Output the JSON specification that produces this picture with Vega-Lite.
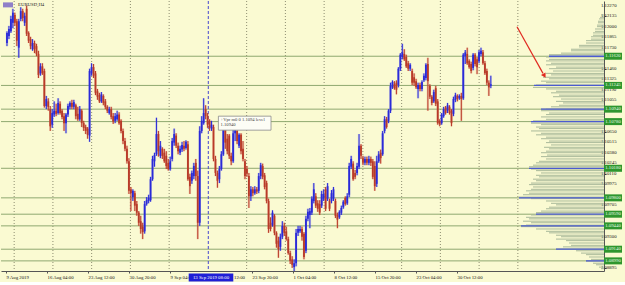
{
"$schema":"https://vega.github.io/schema/vega-lite/v6.json",
"width":603,"height":270,"padding":0,"autosize":{"type":"pad"},
"background":"#fafad2",
"config":{"view":{"stroke":null},"font":"Liberation Sans Narrow",
 "axis":{"labelOverlap":false,"labelFlush":false,"labelFontSize":4.8,"labelFont":"Liberation Sans Narrow","labelColor":"#111","domainColor":"#555","tickColor":"#555","tickSize":2,"labelPadding":1,"grid":false,"title":null}},
"datasets":{
"candles":[
{"i":0,"o":1.1179,"h":1.1194,"l":1.1175,"c":1.1192},{"i":1,"o":1.1188,"h":1.1201,"l":1.1184,"c":1.1197},{"i":2,"o":1.1194,"h":1.1214,"l":1.1192,"c":1.1210},{"i":3,"o":1.1205,"h":1.1223,"l":1.1198,"c":1.1218},{"i":4,"o":1.1215,"h":1.1218,"l":1.1201,"c":1.1205},{"i":5,"o":1.1207,"h":1.1210,"l":1.1175,"c":1.1182},{"i":6,"o":1.1173,"h":1.1210,"l":1.1160,"c":1.1207},{"i":7,"o":1.1210,"h":1.1225,"l":1.1207,"c":1.1220},{"i":8,"o":1.1220,"h":1.1223,"l":1.1207,"c":1.1211},{"i":9,"o":1.1205,"h":1.1218,"l":1.1201,"c":1.1214},
{"i":10,"o":1.1223,"h":1.1227,"l":1.1188,"c":1.1191},{"i":11,"o":1.1192,"h":1.1194,"l":1.1179,"c":1.1182},{"i":12,"o":1.1184,"h":1.1187,"l":1.1171,"c":1.1175},{"i":13,"o":1.1171,"h":1.1184,"l":1.1169,"c":1.1179},{"i":14,"o":1.1179,"h":1.1182,"l":1.1166,"c":1.1171},{"i":15,"o":1.1175,"h":1.1178,"l":1.1162,"c":1.1165},{"i":16,"o":1.1165,"h":1.1169,"l":1.1134,"c":1.1138},{"i":17,"o":1.1140,"h":1.1153,"l":1.1137,"c":1.1149},{"i":18,"o":1.1149,"h":1.1153,"l":1.1138,"c":1.1140},{"i":19,"o":1.1143,"h":1.1146,"l":1.1096,"c":1.1098},
{"i":20,"o":1.1098,"h":1.1111,"l":1.1094,"c":1.1107},{"i":21,"o":1.1104,"h":1.1108,"l":1.1092,"c":1.1097},{"i":22,"o":1.1094,"h":1.1098,"l":1.1066,"c":1.1072},{"i":23,"o":1.1074,"h":1.1094,"l":1.1070,"c":1.1089},{"i":24,"o":1.1087,"h":1.1104,"l":1.1084,"c":1.1092},{"i":25,"o":1.1092,"h":1.1101,"l":1.1085,"c":1.1088},{"i":26,"o":1.1089,"h":1.1108,"l":1.1087,"c":1.1102},{"i":27,"o":1.1101,"h":1.1104,"l":1.1087,"c":1.1089},{"i":28,"o":1.1092,"h":1.1094,"l":1.1081,"c":1.1084},{"i":29,"o":1.1085,"h":1.1089,"l":1.1066,"c":1.1076},
{"i":30,"o":1.1076,"h":1.1089,"l":1.1063,"c":1.1087},{"i":31,"o":1.1087,"h":1.1101,"l":1.1084,"c":1.1098},{"i":32,"o":1.1097,"h":1.1104,"l":1.1094,"c":1.1102},{"i":33,"o":1.1102,"h":1.1106,"l":1.1094,"c":1.1097},{"i":34,"o":1.1097,"h":1.1106,"l":1.1094,"c":1.1103},{"i":35,"o":1.1099,"h":1.1101,"l":1.1081,"c":1.1085},{"i":36,"o":1.1088,"h":1.1097,"l":1.1079,"c":1.1081},{"i":37,"o":1.1081,"h":1.1098,"l":1.1079,"c":1.1094},{"i":38,"o":1.1092,"h":1.1094,"l":1.1071,"c":1.1076},{"i":39,"o":1.1076,"h":1.1079,"l":1.1066,"c":1.1070},
{"i":40,"o":1.1071,"h":1.1074,"l":1.1062,"c":1.1066},{"i":41,"o":1.1069,"h":1.1071,"l":1.1056,"c":1.1061},{"i":42,"o":1.1060,"h":1.1146,"l":1.1052,"c":1.1143},{"i":43,"o":1.1140,"h":1.1153,"l":1.1137,"c":1.1148},{"i":44,"o":1.1148,"h":1.1152,"l":1.1134,"c":1.1137},{"i":45,"o":1.1140,"h":1.1143,"l":1.1112,"c":1.1115},{"i":46,"o":1.1117,"h":1.1120,"l":1.1106,"c":1.1110},{"i":47,"o":1.1112,"h":1.1115,"l":1.1102,"c":1.1104},{"i":48,"o":1.1104,"h":1.1116,"l":1.1102,"c":1.1113},{"i":49,"o":1.1111,"h":1.1113,"l":1.1099,"c":1.1102},
{"i":50,"o":1.1104,"h":1.1107,"l":1.1094,"c":1.1097},{"i":51,"o":1.1097,"h":1.1099,"l":1.1089,"c":1.1092},{"i":52,"o":1.1089,"h":1.1097,"l":1.1087,"c":1.1094},{"i":53,"o":1.1094,"h":1.1097,"l":1.1081,"c":1.1084},{"i":54,"o":1.1085,"h":1.1089,"l":1.1075,"c":1.1078},{"i":55,"o":1.1079,"h":1.1089,"l":1.1076,"c":1.1085},{"i":56,"o":1.1081,"h":1.1092,"l":1.1079,"c":1.1087},{"i":57,"o":1.1087,"h":1.1090,"l":1.1074,"c":1.1076},{"i":58,"o":1.1079,"h":1.1081,"l":1.1063,"c":1.1066},{"i":59,"o":1.1066,"h":1.1069,"l":1.1049,"c":1.1053},
{"i":60,"o":1.1053,"h":1.1057,"l":1.1040,"c":1.1043},{"i":61,"o":1.1043,"h":1.1047,"l":1.1024,"c":1.1027},{"i":62,"o":1.1027,"h":1.1031,"l":1.0985,"c":1.0989},{"i":63,"o":1.0991,"h":1.0994,"l":1.0963,"c":1.0986},{"i":64,"o":1.0981,"h":1.0991,"l":1.0976,"c":1.0989},{"i":65,"o":1.0986,"h":1.0989,"l":1.0963,"c":1.0970},{"i":66,"o":1.0972,"h":1.0976,"l":1.0957,"c":1.0961},{"i":67,"o":1.0961,"h":1.0963,"l":1.0944,"c":1.0948},{"i":68,"o":1.0950,"h":1.0957,"l":1.0934,"c":1.0940},{"i":69,"o":1.0943,"h":1.0948,"l":1.0927,"c":1.0936},
{"i":70,"o":1.0937,"h":1.0976,"l":1.0934,"c":1.0972},{"i":71,"o":1.0972,"h":1.0981,"l":1.0970,"c":1.0977},{"i":72,"o":1.0976,"h":1.0984,"l":1.0973,"c":1.0980},{"i":73,"o":1.0977,"h":1.1007,"l":1.0975,"c":1.1004},{"i":74,"o":1.1004,"h":1.1034,"l":1.1002,"c":1.1030},{"i":75,"o":1.1027,"h":1.1038,"l":1.1020,"c":1.1035},{"i":76,"o":1.1036,"h":1.1083,"l":1.1034,"c":1.1062},{"i":77,"o":1.1062,"h":1.1066,"l":1.1033,"c":1.1040},{"i":78,"o":1.1034,"h":1.1053,"l":1.1031,"c":1.1047},{"i":79,"o":1.1043,"h":1.1045,"l":1.1030,"c":1.1034},
{"i":80,"o":1.1038,"h":1.1043,"l":1.1025,"c":1.1027},{"i":81,"o":1.1034,"h":1.1040,"l":1.1017,"c":1.1021},{"i":82,"o":1.1025,"h":1.1030,"l":1.1015,"c":1.1017},{"i":83,"o":1.1017,"h":1.1033,"l":1.1015,"c":1.1027},{"i":84,"o":1.1030,"h":1.1057,"l":1.1027,"c":1.1053},{"i":85,"o":1.1051,"h":1.1069,"l":1.1047,"c":1.1062},{"i":86,"o":1.1060,"h":1.1063,"l":1.1044,"c":1.1047},{"i":87,"o":1.1047,"h":1.1051,"l":1.1036,"c":1.1040},{"i":88,"o":1.1038,"h":1.1047,"l":1.1035,"c":1.1043},{"i":89,"o":1.1042,"h":1.1052,"l":1.1039,"c":1.1048},
{"i":90,"o":1.1047,"h":1.1053,"l":1.1040,"c":1.1043},{"i":91,"o":1.1044,"h":1.1054,"l":1.1042,"c":1.1052},{"i":92,"o":1.1049,"h":1.1053,"l":1.1002,"c":1.1004},{"i":93,"o":1.1007,"h":1.1011,"l":1.0985,"c":1.0995},{"i":94,"o":1.1002,"h":1.1015,"l":1.0998,"c":1.1012},{"i":95,"o":1.1008,"h":1.1025,"l":1.1004,"c":1.1021},{"i":96,"o":1.1025,"h":1.1030,"l":1.1002,"c":1.1008},{"i":97,"o":1.1008,"h":1.1015,"l":1.0927,"c":1.0948},{"i":98,"o":1.0948,"h":1.1072,"l":1.0944,"c":1.1066},{"i":99,"o":1.1066,"h":1.1085,"l":1.1063,"c":1.1079},
{"i":100,"o":1.1076,"h":1.1108,"l":1.1074,"c":1.1089},{"i":101,"o":1.1094,"h":1.1099,"l":1.1081,"c":1.1085},{"i":102,"o":1.1085,"h":1.1089,"l":1.1070,"c":1.1074},{"i":103,"o":1.1079,"h":1.1081,"l":1.1066,"c":1.1070},{"i":104,"o":1.1069,"h":1.1079,"l":1.1066,"c":1.1074},{"i":105,"o":1.1071,"h":1.1074,"l":1.1027,"c":1.1030},{"i":106,"o":1.1030,"h":1.1034,"l":1.1008,"c":1.1012},{"i":107,"o":1.1012,"h":1.1015,"l":1.0993,"c":1.1002},{"i":108,"o":1.1004,"h":1.1021,"l":1.0999,"c":1.1017},{"i":109,"o":1.1017,"h":1.1040,"l":1.1015,"c":1.1036},
{"i":110,"o":1.1036,"h":1.1072,"l":1.1034,"c":1.1069},{"i":111,"o":1.1069,"h":1.1071,"l":1.1043,"c":1.1051},{"i":112,"o":1.1056,"h":1.1062,"l":1.1036,"c":1.1040},{"i":113,"o":1.1060,"h":1.1062,"l":1.1030,"c":1.1034},{"i":114,"o":1.1034,"h":1.1038,"l":1.1022,"c":1.1027},{"i":115,"o":1.1027,"h":1.1069,"l":1.1025,"c":1.1063},{"i":116,"o":1.1063,"h":1.1072,"l":1.1053,"c":1.1069},{"i":117,"o":1.1066,"h":1.1069,"l":1.1049,"c":1.1053},{"i":118,"o":1.1047,"h":1.1063,"l":1.1044,"c":1.1061},{"i":119,"o":1.1061,"h":1.1063,"l":1.1036,"c":1.1040},
{"i":120,"o":1.1043,"h":1.1053,"l":1.1027,"c":1.1030},{"i":121,"o":1.1027,"h":1.1030,"l":1.1004,"c":1.1008},{"i":122,"o":1.1017,"h":1.1021,"l":1.1007,"c":1.1011},{"i":123,"o":1.1008,"h":1.1012,"l":1.0967,"c":1.0982},{"i":124,"o":1.0982,"h":1.0995,"l":1.0976,"c":1.0991},{"i":125,"o":1.0991,"h":1.0994,"l":1.0982,"c":1.0986},{"i":126,"o":1.0986,"h":1.0995,"l":1.0984,"c":1.0991},{"i":127,"o":1.0991,"h":1.0994,"l":1.0985,"c":1.0988},{"i":128,"o":1.0989,"h":1.1012,"l":1.0986,"c":1.1008},{"i":129,"o":1.1008,"h":1.1025,"l":1.1004,"c":1.1022},
{"i":130,"o":1.1021,"h":1.1024,"l":1.1004,"c":1.1007},{"i":131,"o":1.1009,"h":1.1012,"l":1.0991,"c":1.0994},{"i":132,"o":1.0999,"h":1.1002,"l":1.0973,"c":1.0976},{"i":133,"o":1.0976,"h":1.0979,"l":1.0935,"c":1.0940},{"i":134,"o":1.0948,"h":1.0955,"l":1.0937,"c":1.0940},{"i":135,"o":1.0945,"h":1.0964,"l":1.0943,"c":1.0961},{"i":136,"o":1.0957,"h":1.0959,"l":1.0932,"c":1.0935},{"i":137,"o":1.0935,"h":1.0937,"l":1.0916,"c":1.0921},{"i":138,"o":1.0925,"h":1.0930,"l":1.0903,"c":1.0914},{"i":139,"o":1.0917,"h":1.0934,"l":1.0912,"c":1.0930},
{"i":140,"o":1.0930,"h":1.0950,"l":1.0927,"c":1.0944},{"i":141,"o":1.0944,"h":1.0948,"l":1.0931,"c":1.0935},{"i":142,"o":1.0937,"h":1.0943,"l":1.0925,"c":1.0927},{"i":143,"o":1.0927,"h":1.0930,"l":1.0907,"c":1.0909},{"i":144,"o":1.0909,"h":1.0912,"l":1.0895,"c":1.0899},{"i":145,"o":1.0901,"h":1.0905,"l":1.0890,"c":1.0894},{"i":146,"o":1.0891,"h":1.0901,"l":1.0886,"c":1.0896},{"i":147,"o":1.0896,"h":1.0940,"l":1.0892,"c":1.0935},{"i":148,"o":1.0935,"h":1.0944,"l":1.0931,"c":1.0940},{"i":149,"o":1.0937,"h":1.0944,"l":1.0935,"c":1.0940},
{"i":150,"o":1.0940,"h":1.0943,"l":1.0925,"c":1.0930},{"i":151,"o":1.0934,"h":1.0936,"l":1.0901,"c":1.0904},{"i":152,"o":1.0912,"h":1.0957,"l":1.0909,"c":1.0953},{"i":153,"o":1.0953,"h":1.0966,"l":1.0950,"c":1.0962},{"i":154,"o":1.0958,"h":1.0967,"l":1.0941,"c":1.0963},{"i":155,"o":1.0961,"h":1.0982,"l":1.0958,"c":1.0979},{"i":156,"o":1.0976,"h":1.0999,"l":1.0973,"c":1.0991},{"i":157,"o":1.0982,"h":1.0986,"l":1.0967,"c":1.0970},{"i":158,"o":1.0973,"h":1.0977,"l":1.0962,"c":1.0966},{"i":159,"o":1.0972,"h":1.0977,"l":1.0958,"c":1.0961},
{"i":160,"o":1.0970,"h":1.0989,"l":1.0967,"c":1.0985},{"i":161,"o":1.0979,"h":1.0991,"l":1.0976,"c":1.0985},{"i":162,"o":1.0991,"h":1.0994,"l":1.0963,"c":1.0966},{"i":163,"o":1.0979,"h":1.0999,"l":1.0976,"c":1.0995},{"i":164,"o":1.0976,"h":1.0979,"l":1.0963,"c":1.0966},{"i":165,"o":1.0976,"h":1.0990,"l":1.0973,"c":1.0986},{"i":166,"o":1.0979,"h":1.0994,"l":1.0976,"c":1.0991},{"i":167,"o":1.0976,"h":1.0979,"l":1.0954,"c":1.0957},{"i":168,"o":1.0958,"h":1.0961,"l":1.0941,"c":1.0952},{"i":169,"o":1.0955,"h":1.0964,"l":1.0953,"c":1.0962},
{"i":170,"o":1.0961,"h":1.0970,"l":1.0958,"c":1.0967},{"i":171,"o":1.0968,"h":1.0977,"l":1.0966,"c":1.0975},{"i":172,"o":1.0980,"h":1.0982,"l":1.0970,"c":1.0972},{"i":173,"o":1.0973,"h":1.0986,"l":1.0971,"c":1.0982},{"i":174,"o":1.0984,"h":1.1025,"l":1.0981,"c":1.1021},{"i":175,"o":1.1020,"h":1.1034,"l":1.1017,"c":1.1030},{"i":176,"o":1.1024,"h":1.1027,"l":1.1002,"c":1.1004},{"i":177,"o":1.1012,"h":1.1016,"l":1.1004,"c":1.1007},{"i":178,"o":1.1012,"h":1.1025,"l":1.1009,"c":1.1021},{"i":179,"o":1.1020,"h":1.1062,"l":1.1017,"c":1.1047},
{"i":180,"o":1.1047,"h":1.1049,"l":1.1030,"c":1.1034},{"i":181,"o":1.1031,"h":1.1034,"l":1.1022,"c":1.1025},{"i":182,"o":1.1025,"h":1.1033,"l":1.1022,"c":1.1030},{"i":183,"o":1.1030,"h":1.1033,"l":1.1022,"c":1.1025},{"i":184,"o":1.1025,"h":1.1034,"l":1.1022,"c":1.1030},{"i":185,"o":1.1030,"h":1.1033,"l":1.1021,"c":1.1025},{"i":186,"o":1.1027,"h":1.1030,"l":1.1004,"c":1.1007},{"i":187,"o":1.1021,"h":1.1027,"l":1.0989,"c":1.0995},{"i":188,"o":1.0998,"h":1.1034,"l":1.0994,"c":1.1027},{"i":189,"o":1.1027,"h":1.1040,"l":1.1025,"c":1.1036},
{"i":190,"o":1.1038,"h":1.1042,"l":1.1024,"c":1.1031},{"i":191,"o":1.1036,"h":1.1066,"l":1.1034,"c":1.1063},{"i":192,"o":1.1066,"h":1.1085,"l":1.1063,"c":1.1081},{"i":193,"o":1.1081,"h":1.1084,"l":1.1069,"c":1.1071},{"i":194,"o":1.1079,"h":1.1094,"l":1.1076,"c":1.1092},{"i":195,"o":1.1092,"h":1.1128,"l":1.1089,"c":1.1124},{"i":196,"o":1.1122,"h":1.1131,"l":1.1120,"c":1.1129},{"i":197,"o":1.1126,"h":1.1130,"l":1.1119,"c":1.1121},{"i":198,"o":1.1128,"h":1.1131,"l":1.1113,"c":1.1119},{"i":199,"o":1.1125,"h":1.1148,"l":1.1122,"c":1.1146},
{"i":200,"o":1.1146,"h":1.1166,"l":1.1143,"c":1.1164},{"i":201,"o":1.1161,"h":1.1178,"l":1.1158,"c":1.1167},{"i":202,"o":1.1165,"h":1.1171,"l":1.1156,"c":1.1158},{"i":203,"o":1.1161,"h":1.1164,"l":1.1147,"c":1.1149},{"i":204,"o":1.1153,"h":1.1156,"l":1.1143,"c":1.1146},{"i":205,"o":1.1146,"h":1.1153,"l":1.1143,"c":1.1151},{"i":206,"o":1.1143,"h":1.1146,"l":1.1125,"c":1.1128},{"i":207,"o":1.1135,"h":1.1140,"l":1.1124,"c":1.1128},{"i":208,"o":1.1130,"h":1.1133,"l":1.1120,"c":1.1122},{"i":209,"o":1.1120,"h":1.1128,"l":1.1108,"c":1.1125},
{"i":210,"o":1.1125,"h":1.1128,"l":1.1117,"c":1.1120},{"i":211,"o":1.1120,"h":1.1131,"l":1.1117,"c":1.1129},{"i":212,"o":1.1131,"h":1.1140,"l":1.1129,"c":1.1137},{"i":213,"o":1.1134,"h":1.1153,"l":1.1131,"c":1.1151},{"i":214,"o":1.1152,"h":1.1160,"l":1.1092,"c":1.1130},{"i":215,"o":1.1124,"h":1.1126,"l":1.1107,"c":1.1110},{"i":216,"o":1.1110,"h":1.1112,"l":1.1099,"c":1.1102},{"i":217,"o":1.1104,"h":1.1119,"l":1.1102,"c":1.1116},{"i":218,"o":1.1121,"h":1.1124,"l":1.1098,"c":1.1101},{"i":219,"o":1.1104,"h":1.1107,"l":1.1074,"c":1.1076},
{"i":220,"o":1.1079,"h":1.1081,"l":1.1072,"c":1.1075},{"i":221,"o":1.1076,"h":1.1089,"l":1.1074,"c":1.1087},{"i":222,"o":1.1085,"h":1.1097,"l":1.1083,"c":1.1094},{"i":223,"o":1.1096,"h":1.1098,"l":1.1087,"c":1.1089},{"i":224,"o":1.1092,"h":1.1102,"l":1.1089,"c":1.1099},{"i":225,"o":1.1097,"h":1.1099,"l":1.1087,"c":1.1089},{"i":226,"o":1.1092,"h":1.1094,"l":1.1072,"c":1.1076},{"i":227,"o":1.1088,"h":1.1110,"l":1.1085,"c":1.1107},{"i":228,"o":1.1106,"h":1.1115,"l":1.1103,"c":1.1112},{"i":229,"o":1.1111,"h":1.1113,"l":1.1104,"c":1.1107},
{"i":230,"o":1.1108,"h":1.1113,"l":1.1106,"c":1.1111},{"i":231,"o":1.1111,"h":1.1115,"l":1.1079,"c":1.1107},{"i":232,"o":1.1108,"h":1.1166,"l":1.1106,"c":1.1164},{"i":233,"o":1.1162,"h":1.1170,"l":1.1152,"c":1.1167},{"i":234,"o":1.1165,"h":1.1173,"l":1.1151,"c":1.1153},{"i":235,"o":1.1156,"h":1.1158,"l":1.1146,"c":1.1148},{"i":236,"o":1.1152,"h":1.1155,"l":1.1140,"c":1.1143},{"i":237,"o":1.1147,"h":1.1166,"l":1.1144,"c":1.1164},{"i":238,"o":1.1164,"h":1.1166,"l":1.1149,"c":1.1152},{"i":239,"o":1.1158,"h":1.1161,"l":1.1139,"c":1.1148},
{"i":240,"o":1.1156,"h":1.1170,"l":1.1153,"c":1.1167},{"i":241,"o":1.1165,"h":1.1173,"l":1.1162,"c":1.1169},{"i":242,"o":1.1167,"h":1.1170,"l":1.1151,"c":1.1153},{"i":243,"o":1.1153,"h":1.1156,"l":1.1138,"c":1.1140},{"i":244,"o":1.1143,"h":1.1146,"l":1.1125,"c":1.1128},{"i":245,"o":1.1128,"h":1.1131,"l":1.1111,"c":1.1122},{"i":246,"o":1.1124,"h":1.1137,"l":1.1121,"c":1.1126}
],
"profile":[
{"p":1.1215,"vol":3},{"p":1.1212,"vol":4},{"p":1.1210,"vol":5},{"p":1.1207,"vol":6},{"p":1.1205,"vol":6},{"p":1.1202,"vol":7},{"p":1.1200,"vol":7},{"p":1.1197,"vol":9},{"p":1.1194,"vol":9},{"p":1.1192,"vol":11},{"p":1.1189,"vol":11},{"p":1.1187,"vol":13},{"p":1.1184,"vol":13},{"p":1.1182,"vol":18},{"p":1.1179,"vol":18},{"p":1.1176,"vol":25},{"p":1.1174,"vol":25},{"p":1.1171,"vol":33},{"p":1.1169,"vol":33},{"p":1.1166,"vol":43},{"p":1.1164,"vol":55},{"p":1.1161,"vol":58},{"p":1.1158,"vol":55},{"p":1.1156,"vol":58},{"p":1.1153,"vol":53},{"p":1.1151,"vol":58},{"p":1.1148,"vol":48},{"p":1.1146,"vol":55},{"p":1.1143,"vol":51},{"p":1.1140,"vol":58},{"p":1.1138,"vol":53},{"p":1.1135,"vol":61},{"p":1.1133,"vol":55},{"p":1.1130,"vol":63},{"p":1.1128,"vol":58},{"p":1.1125,"vol":68},{"p":1.1122,"vol":71},{"p":1.1120,"vol":58},{"p":1.1117,"vol":48},{"p":1.1115,"vol":53},{"p":1.1112,"vol":45},{"p":1.1110,"vol":51},{"p":1.1107,"vol":43},{"p":1.1104,"vol":48},{"p":1.1102,"vol":41},{"p":1.1099,"vol":45},{"p":1.1097,"vol":53},{"p":1.1094,"vol":58},{"p":1.1092,"vol":63},{"p":1.1089,"vol":55},{"p":1.1087,"vol":58},{"p":1.1084,"vol":63},{"p":1.1081,"vol":58},{"p":1.1079,"vol":71},{"p":1.1076,"vol":73},{"p":1.1074,"vol":63},{"p":1.1071,"vol":68},{"p":1.1069,"vol":65},{"p":1.1066,"vol":73},{"p":1.1063,"vol":63},{"p":1.1061,"vol":68},{"p":1.1058,"vol":58},{"p":1.1056,"vol":63},{"p":1.1053,"vol":55},{"p":1.1051,"vol":58},{"p":1.1048,"vol":53},{"p":1.1045,"vol":60},{"p":1.1043,"vol":55},{"p":1.1040,"vol":58},{"p":1.1038,"vol":63},{"p":1.1035,"vol":57},{"p":1.1033,"vol":63},{"p":1.1030,"vol":58},{"p":1.1027,"vol":65},{"p":1.1025,"vol":68},{"p":1.1022,"vol":71},{"p":1.1020,"vol":75},{"p":1.1017,"vol":73},{"p":1.1015,"vol":68},{"p":1.1012,"vol":63},{"p":1.1009,"vol":68},{"p":1.1007,"vol":65},{"p":1.1004,"vol":71},{"p":1.1002,"vol":68},{"p":1.0999,"vol":73},{"p":1.0997,"vol":75},{"p":1.0994,"vol":71},{"p":1.0991,"vol":73},{"p":1.0989,"vol":78},{"p":1.0986,"vol":75},{"p":1.0984,"vol":81},{"p":1.0981,"vol":85},{"p":1.0979,"vol":73},{"p":1.0976,"vol":58},{"p":1.0973,"vol":53},{"p":1.0971,"vol":48},{"p":1.0968,"vol":55},{"p":1.0966,"vol":58},{"p":1.0963,"vol":63},{"p":1.0961,"vol":68},{"p":1.0958,"vol":73},{"p":1.0955,"vol":78},{"p":1.0953,"vol":75},{"p":1.0950,"vol":81},{"p":1.0948,"vol":73},{"p":1.0945,"vol":78},{"p":1.0943,"vol":83},{"p":1.0940,"vol":68},{"p":1.0937,"vol":58},{"p":1.0935,"vol":55},{"p":1.0932,"vol":48},{"p":1.0930,"vol":43},{"p":1.0927,"vol":48},{"p":1.0925,"vol":38},{"p":1.0922,"vol":35},{"p":1.0919,"vol":33},{"p":1.0917,"vol":41},{"p":1.0914,"vol":48},{"p":1.0912,"vol":28},{"p":1.0909,"vol":23},{"p":1.0907,"vol":18},{"p":1.0904,"vol":15},{"p":1.0901,"vol":13},{"p":1.0899,"vol":18},{"p":1.0896,"vol":11},{"p":1.0894,"vol":8},{"p":1.0891,"vol":5},{"p":1.0889,"vol":3}
],
"levels":[
{"p":1.1162,"vol":55,"lab":"1.11620"},{"p":1.11245,"vol":70,"lab":"1.11245"},{"p":1.1094,"vol":63,"lab":"1.10940"},{"p":1.1078,"vol":73,"lab":"1.10780"},{"p":1.1018,"vol":75,"lab":"1.10180"},{"p":1.098,"vol":85,"lab":"1.09800"},{"p":1.0959,"vol":68,"lab":"1.09590"},{"p":1.0944,"vol":83,"lab":"1.09440"},{"p":1.0914,"vol":48,"lab":"1.09140"},{"p":1.0899,"vol":18,"lab":"1.08990"}
],
"yticks":[{"v":1.1227},{"v":1.12135},{"v":1.12},{"v":1.11865},{"v":1.1173},{"v":1.1146},{"v":1.11325},{"v":1.1119},{"v":1.11055},{"v":1.1065},{"v":1.10515},{"v":1.1038},{"v":1.10245},{"v":1.1011},{"v":1.09975},{"v":1.09705},{"v":1.093},{"v":1.08895}],
"vgrid":[{"g":3.65},{"g":23.35},{"g":43.05},{"g":62.75},{"g":82.45},{"g":121.85},{"g":141.55},{"g":161.25},{"g":180.95},{"g":200.65},{"g":220.35},{"g":240.05},{"g":259.75}]
},
"layer":[
{"layer":[
 {"data":{"name":"vgrid"},"mark":{"type":"rule","color":"#8d8d70","strokeDash":[1,2],"strokeWidth":1},
  "encoding":{"x":{"field":"g","type":"quantitative","scale":{"domain":[-0.5,301],"nice":false,"zero":false},
   "axis":{"orient":"bottom","values":[-0.5,20.35,41.2,62.05,82.9,124.6,145.45,166.3,187.15,208,228.85],
    "labelExpr":"['9 Aug 2019','16 Aug 04:00','23 Aug 12:00','30 Aug 20:00','9 Sep 04:00','','23 Sep 20:00','1 Oct 04:00','8 Oct 12:00','15 Oct 20:00','23 Oct 04:00','30 Oct 12:00'][round((datum.value+0.5)/20.85)]",
    "labelAlign":"left","labelFlush":false,"labelOverlap":false,"tickSize":2,"labelPadding":1,"title":null,"grid":false}}}},
 {"data":{"name":"levels"},"mark":{"type":"rule","color":"#8fa870","strokeWidth":1},
  "encoding":{"y":{"field":"p","type":"quantitative","scale":{"domain":[1.0886,1.1233],"nice":false,"zero":false},
   "axis":{"orient":"right","values":[1.1227,1.12135,1.12,1.11865,1.1173,1.1146,1.11325,1.1119,1.11055,1.1065,1.10515,1.1038,1.10245,1.1011,1.09975,1.09705,1.093,1.08895],
    "labels":false,"title":null,"grid":false,"tickSize":2}}}},
 {"data":{"name":"yticks"},"mark":{"type":"text","fontSize":4.8,"font":"Liberation Sans Narrow","color":"#111","align":"left","baseline":"middle"},
  "encoding":{"x":{"datum":302,"type":"quantitative","scale":{"domain":[-0.5,301],"nice":false,"zero":false}},
   "y":{"field":"v","type":"quantitative","scale":{"domain":[1.0886,1.1233],"nice":false,"zero":false}},
   "text":{"field":"v","type":"quantitative","format":".5f"}}},
 {"data":{"values":[{}]},"mark":{"type":"rule","color":"#4646d0","strokeDash":[3,2],"strokeWidth":1},
  "encoding":{"x":{"datum":102.35,"type":"quantitative","scale":{"domain":[-0.5,301],"nice":false,"zero":false}}}},
 {"data":{"name":"candles"},"mark":{"type":"rule","strokeWidth":2.4,"opacity":0.3},
  "encoding":{"x":{"field":"i","type":"quantitative","scale":{"domain":[-0.5,301],"nice":false,"zero":false}},
   "y":{"field":"l","type":"quantitative","scale":{"domain":[1.0886,1.1233],"nice":false,"zero":false}},"y2":{"field":"h"},
   "color":{"condition":{"test":"datum.c >= datum.o","value":"#6a6ae8"},"value":"#e07060"}}},
 {"data":{"name":"candles"},"mark":{"type":"rule","strokeWidth":1},
  "encoding":{"x":{"field":"i","type":"quantitative","scale":{"domain":[-0.5,301],"nice":false,"zero":false}},
   "y":{"field":"l","type":"quantitative","scale":{"domain":[1.0886,1.1233],"nice":false,"zero":false}},"y2":{"field":"h"},
   "color":{"condition":{"test":"datum.c >= datum.o","value":"#2a2ad8"},"value":"#b83a28"}}},
 {"data":{"name":"candles"},"mark":{"type":"bar","size":1.8},
  "encoding":{"x":{"field":"i","type":"quantitative","scale":{"domain":[-0.5,301],"nice":false,"zero":false}},
   "y":{"field":"o","type":"quantitative","scale":{"domain":[1.0886,1.1233],"nice":false,"zero":false}},"y2":{"field":"c"},
   "color":{"condition":{"test":"datum.c >= datum.o","value":"#2a2ad8"},"value":"#b83a28"}}}
]},
{"layer":[
 {"data":{"name":"profile"},"mark":{"type":"rule","color":"#a9b99a","strokeWidth":1},
  "encoding":{"x":{"field":"vol","type":"quantitative","scale":{"domain":[0,603],"reverse":true,"nice":false,"zero":false},"axis":null},"x2":{"datum":0},
   "y":{"field":"p","type":"quantitative","scale":{"domain":[1.0886,1.1233],"nice":false,"zero":false}}}},
 {"data":{"name":"levels"},"mark":{"type":"rule","color":"#4b5bd0","strokeWidth":1.3},
  "encoding":{"x":{"field":"vol","type":"quantitative","scale":{"domain":[0,603],"reverse":true,"nice":false,"zero":false},"axis":null},"x2":{"datum":0},
   "y":{"field":"p","type":"quantitative","scale":{"domain":[1.0886,1.1233],"nice":false,"zero":false}}}}
]},
{"layer":[
 {"data":{"name":"levels"},"mark":{"type":"rule","color":"#2e962e","strokeWidth":7,"strokeCap":"butt"},
  "encoding":{"x":{"datum":301.0,"type":"quantitative","scale":{"domain":[-0.5,301],"nice":false,"zero":false},"axis":null},"x2":{"datum":310.0},
   "y":{"field":"p","type":"quantitative","scale":{"domain":[1.0886,1.1233],"nice":false,"zero":false}}}},
 {"data":{"name":"levels"},"mark":{"type":"text","fontSize":4.8,"font":"Liberation Sans Narrow","color":"#e6ffe6","align":"center","baseline":"middle"},
  "encoding":{"x":{"datum":305.5,"type":"quantitative","scale":{"domain":[-0.5,301],"nice":false,"zero":false},"axis":null},
   "y":{"field":"p","type":"quantitative","scale":{"domain":[1.0886,1.1233],"nice":false,"zero":false}},"text":{"field":"lab"}}},
 {"data":{"values":[{}]},"mark":{"type":"rect","fill":"#fdfdf6","stroke":"#8a8a8a","strokeWidth":0.8},
  "encoding":{"x":{"datum":108.2,"type":"quantitative","scale":{"domain":[-0.5,301],"nice":false,"zero":false},"axis":null},"x2":{"datum":134.5},
   "y":{"datum":1.1085,"type":"quantitative","scale":{"domain":[1.0886,1.1233],"nice":false,"zero":false}},"y2":{"datum":1.1067}}},
 {"data":{"values":[{}]},"mark":{"type":"text","fontSize":4.6,"font":"Liberation Sans Narrow","color":"#444","align":"left","baseline":"middle"},
  "encoding":{"x":{"datum":109.3,"type":"quantitative","scale":{"domain":[-0.5,301],"nice":false,"zero":false},"axis":null},
   "y":{"datum":1.1080,"type":"quantitative","scale":{"domain":[1.0886,1.1233],"nice":false,"zero":false}},"text":{"value":"+Vpr m0 0 1.1094 level"}}},
 {"data":{"values":[{}]},"mark":{"type":"text","fontSize":4.6,"font":"Liberation Sans Narrow","color":"#444","align":"left","baseline":"middle"},
  "encoding":{"x":{"datum":109.3,"type":"quantitative","scale":{"domain":[-0.5,301],"nice":false,"zero":false},"axis":null},
   "y":{"datum":1.10735,"type":"quantitative","scale":{"domain":[1.0886,1.1233],"nice":false,"zero":false}},"text":{"value":"1.10940"}}},
 {"data":{"values":[{}]},"mark":{"type":"rule","color":"#9080c8","strokeWidth":5,"strokeCap":"butt"},
  "encoding":{"x":{"datum":0.5,"type":"quantitative","scale":{"domain":[-0.5,301],"nice":false,"zero":false},"axis":null},"x2":{"datum":5.5},
   "y":{"datum":1.1228,"type":"quantitative","scale":{"domain":[1.0886,1.1233],"nice":false,"zero":false}}}},
 {"data":{"values":[{}]},"mark":{"type":"text","fontSize":4.8,"font":"Liberation Sans Narrow","color":"#222","align":"left","baseline":"middle"},
  "encoding":{"x":{"datum":8,"type":"quantitative","scale":{"domain":[-0.5,301],"nice":false,"zero":false},"axis":null},
   "y":{"datum":1.1228,"type":"quantitative","scale":{"domain":[1.0886,1.1233],"nice":false,"zero":false}},"text":{"value":"EURUSD,H4"}}},
 {"data":{"values":[{}]},"mark":{"type":"rule","color":"#e02a20","strokeWidth":1.2},
  "encoding":{"x":{"datum":257.5,"type":"quantitative","scale":{"domain":[-0.5,301],"nice":false,"zero":false},"axis":null},"x2":{"datum":270.5},
   "y":{"datum":1.1200,"type":"quantitative","scale":{"domain":[1.0886,1.1233],"nice":false,"zero":false}},"y2":{"datum":1.1140}}},
 {"data":{"values":[{}]},"mark":{"type":"point","shape":"triangle-down","filled":true,"color":"#e02a20","size":28,"angle":330,"opacity":1},
  "encoding":{"x":{"datum":271.2,"type":"quantitative","scale":{"domain":[-0.5,301],"nice":false,"zero":false},"axis":null},
   "y":{"datum":1.1137,"type":"quantitative","scale":{"domain":[1.0886,1.1233],"nice":false,"zero":false}}}},
 {"data":{"values":[{}]},"mark":{"type":"rule","color":"#1f1fd6","strokeWidth":8,"strokeCap":"butt"},
  "encoding":{"x":{"datum":93.35,"type":"quantitative","scale":{"domain":[-0.5,301],"nice":false,"zero":false},"axis":null},"x2":{"datum":115.65},
   "y":{"datum":1.08776,"type":"quantitative","scale":{"domain":[1.0886,1.1233],"nice":false,"zero":false}}}},
 {"data":{"values":[{}]},"mark":{"type":"text","fontSize":4.8,"font":"Liberation Sans Narrow","color":"#ffffff","align":"center","baseline":"middle"},
  "encoding":{"x":{"datum":104.5,"type":"quantitative","scale":{"domain":[-0.5,301],"nice":false,"zero":false},"axis":null},
   "y":{"datum":1.08776,"type":"quantitative","scale":{"domain":[1.0886,1.1233],"nice":false,"zero":false}},"text":{"value":"13 Sep 2019 08:00"}}},
 {"data":{"values":[{}]},"mark":{"type":"text","fontSize":4.8,"font":"Liberation Sans Narrow","color":"#111","align":"left","baseline":"middle"},
  "encoding":{"x":{"datum":116,"type":"quantitative","scale":{"domain":[-0.5,301],"nice":false,"zero":false},"axis":null},
   "y":{"datum":1.08776,"type":"quantitative","scale":{"domain":[1.0886,1.1233],"nice":false,"zero":false}},"text":{"value":"12:00"}}}
]}
],
"resolve":{"scale":{"x":"independent"}}
}
